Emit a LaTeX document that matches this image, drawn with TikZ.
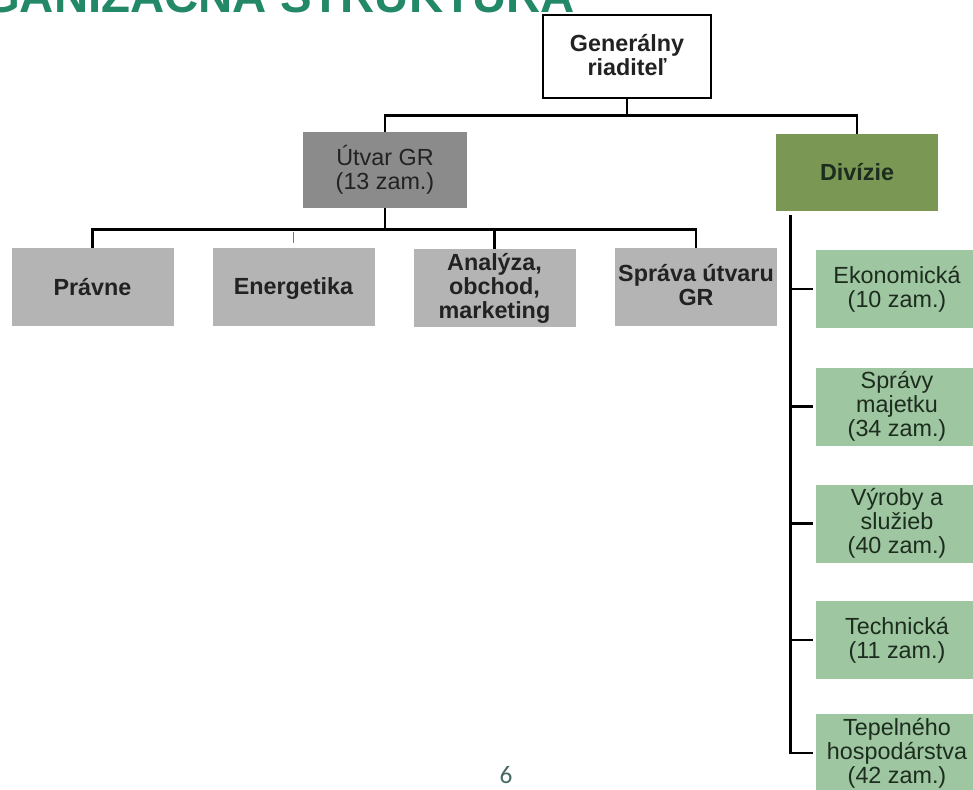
\documentclass[tikz,border=0pt]{standalone}
\usepackage{fontspec}
\setmainfont{Liberation Sans}
\newfontfamily\pagefont{Carlito}
\usetikzlibrary{positioning}

\definecolor{titleteal}{RGB}{34,136,104}
\definecolor{utvargrey}{RGB}{139,139,139}
\definecolor{lightgrey}{RGB}{180,180,180}
\definecolor{divgreen}{RGB}{122,152,84}
\definecolor{lightgreen}{RGB}{158,198,160}
\definecolor{textdark}{RGB}{34,34,34}
\definecolor{textgreen}{RGB}{28,44,30}
\definecolor{tickblue}{RGB}{70,130,200}
\definecolor{pagegrey}{RGB}{70,105,100}

\newcommand{\boxfont}{\fontsize{17.5pt}{18pt}\selectfont}
\newcommand{\bstrut}{\rule[-2.75pt]{0pt}{18pt}}

\begin{document}
\begin{tikzpicture}[x=0.75pt,y=-0.75pt,
    box/.style={inner sep=0pt,align=center,font=\boxfont,
        execute at begin node=\bstrut,execute at end node=\bstrut},
    greybox/.style={box,fill=lightgrey,minimum width=121.5pt,minimum height=58.5pt,
        font=\boxfont\bfseries,text=textdark},
    greenbox/.style={box,fill=lightgreen,minimum width=121.5pt,minimum height=58.5pt,
        text=textgreen},
    link/.style={line width=1.9pt,draw=black},
    bluetick/.style={line width=1.4pt,draw=tickblue}]
        \fill[white] (0,0) rectangle (973,789);
        \clip (0,0) rectangle (973,789);
        % title, cut by the top edge
        \node[anchor=base east,inner sep=0pt,text=titleteal,
            font=\fontsize{35.5pt}{40pt}\selectfont\bfseries] (title) at (575,12)
            {ORGANIZAČNÁ ŠTRUKTÚRA};
        % top levels
        \node[box,draw,line width=2pt,fill=white,minimum width=126pt,minimum height=62.25pt,
            font=\boxfont\bfseries,text=textdark] (gen) at (627,56.5) {Generálny\\riaditeľ};
        \node[box,fill=utvargrey,minimum width=123pt,minimum height=57pt,text=textdark]
            (utvar) at (385,170) {Útvar GR\\(13 zam.)};
        \node[box,fill=divgreen,minimum width=121.5pt,minimum height=57.75pt,
            font=\boxfont\bfseries,text=textgreen] (divizie) at (857,172.5) {Divízie};
        % departments of Útvar GR
        \node[greybox] (pravne) at (92.5,287) {Právne};
        \node[greybox] (energetika) at (293.5,287) {Energetika};
        \node[greybox] (analyza) at (494.5,288) {Analýza,\\obchod,\\marketing};
        \node[greybox] (sprava) at (696,287) {Správa útvaru\\GR};
        % divisions
        \foreach \name/\y/\txt in {ekon/289/Ekonomická\\(10 zam.),
            majetok/406.5/Správy\\majetku\\(34 zam.),
            vyroba/523.5/Výroby a\\služieb\\(40 zam.),
            tech/640/Technická\\(11 zam.),
            tepelne/753/Tepelného\\hospodárstva\\(42 zam.)}{
            \node[greenbox] (\name) at (897,\y) {\txt};
        }
        % connectors
        \draw[link] (gen.south) -- ++(0,16) coordinate (busTop) -| (utvar.north);
        \draw[link] (busTop) -| (divizie.north);
        \draw[link] (utvar.south) -- ++(0,21) coordinate (busGR) -| (pravne.north);
        \draw[link] (busGR) -| (analyza.north);
        \draw[link] (busGR) -| (sprava.north);
        \draw[bluetick,shorten <=3.75pt,shorten >=2.25pt] (energetika.north) -- (energetika.north |- busGR);
        \draw[link] ([xshift=11.25pt,yshift=-3pt]divizie.south west) coordinate (trunk)
            |- ([xshift=-2pt]tepelne.west);
        \foreach \n in {ekon,majetok,vyroba,tech}{
            \draw[link] (trunk |- \n.west) -- ([xshift=-2pt]\n.west);
        }
        % page number
        \node[anchor=base,inner sep=0pt,text=pagegrey,font=\pagefont\fontsize{19pt}{21pt}\selectfont]
            (page) at (506,783) {6};
\end{tikzpicture}
\end{document}
